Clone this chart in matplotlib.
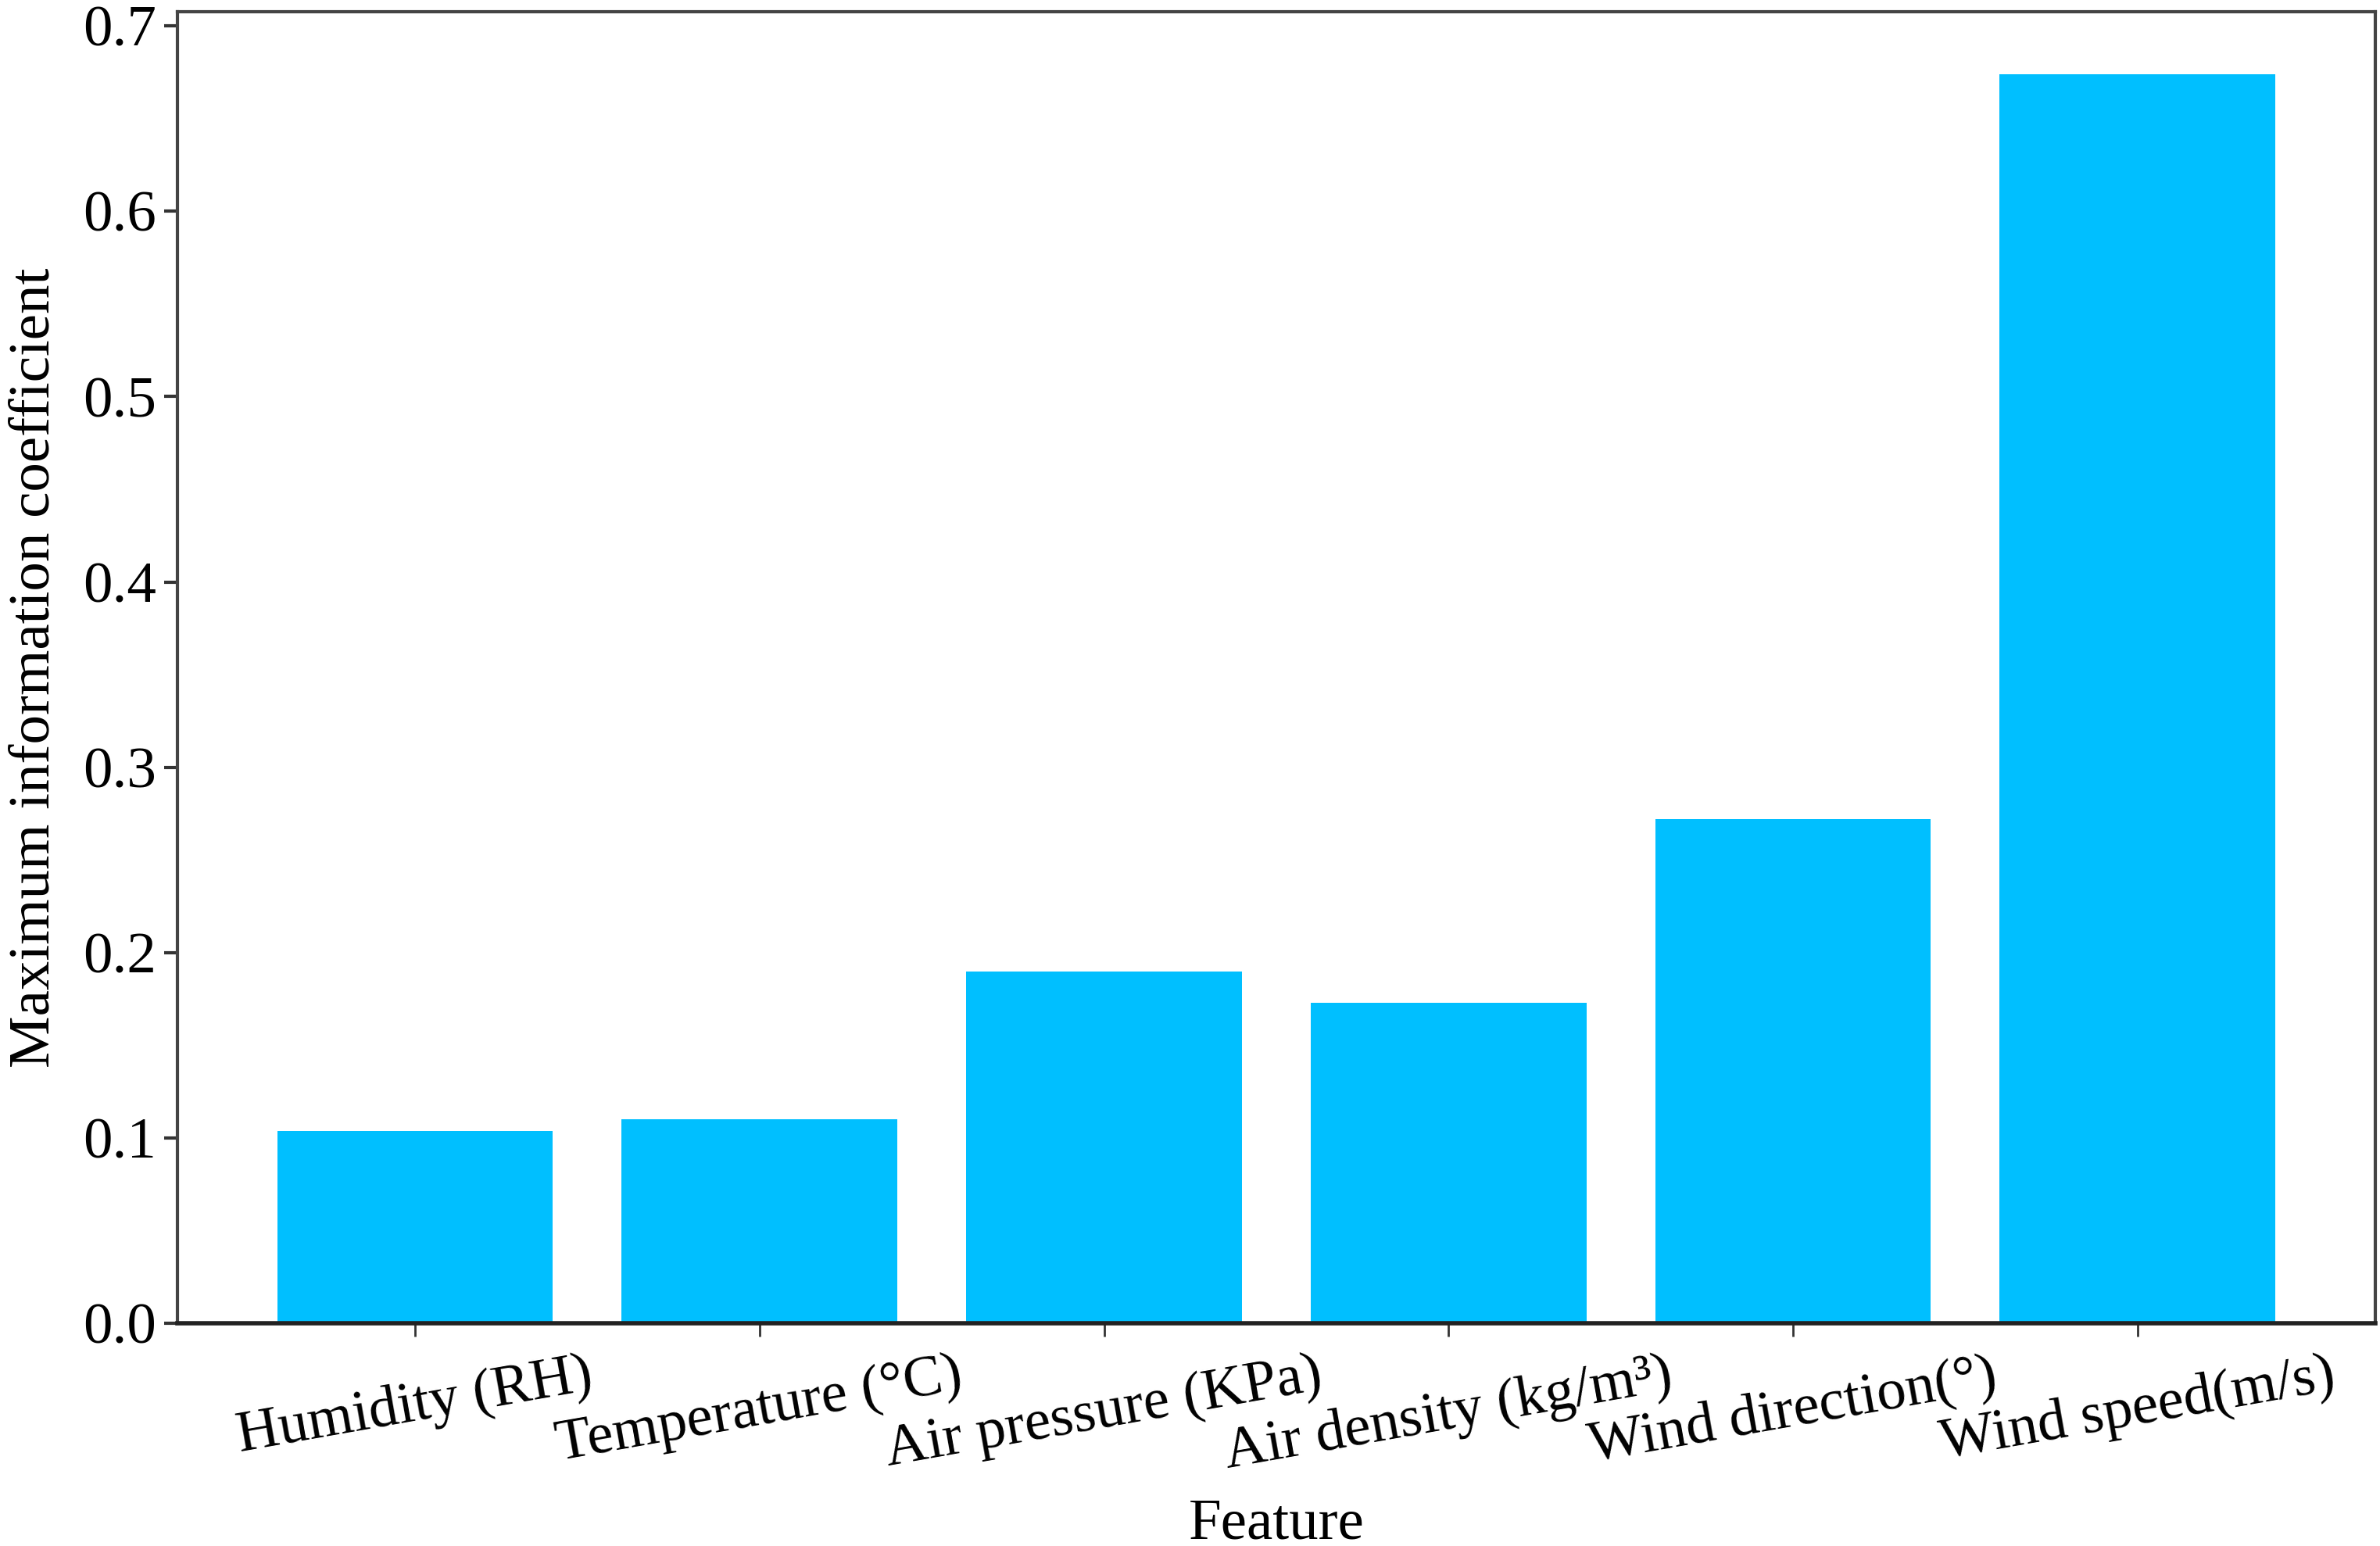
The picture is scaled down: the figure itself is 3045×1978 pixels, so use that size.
import matplotlib
matplotlib.use("Agg")
import matplotlib.pyplot as plt

features = ["Humidity (RH)", "Temperature (°C)", "Air pressure (KPa)",
            "Air density (kg/m³)", "Wind direction(°)", "Wind speed(m/s)"]
mic = [0.104, 0.110, 0.190, 0.173, 0.272, 0.674]

plt.rcParams['font.family'] = ['Liberation Serif', 'DejaVu Serif']
plt.rcParams['mathtext.fontset'] = 'stix'

fig = plt.figure(figsize=(15.225, 9.89), dpi=200)
ax = fig.add_axes([0.0745, 0.144, 0.9235, 0.8485])
ax.bar(range(len(features)), mic, width=0.8, color='#00BFFF')
ax.set_xticks(range(len(features)))
ax.set_xticklabels(features, rotation=10, ha='center', fontsize=27)
ax.tick_params(axis='y', labelsize=27, length=6, width=1.5, color='#333333')
ax.tick_params(axis='x', length=6, width=1.0, color='#333333', pad=6)
ax.set_xlabel("Feature", fontsize=27, labelpad=8)
ax.set_ylabel("Maximum information coefficient", fontsize=27, labelpad=10)
for s in ax.spines.values():
    s.set_linewidth(1.5)
    s.set_color('#444444')
ax.spines['bottom'].set_color('#222222')
ax.spines['bottom'].set_linewidth(2.0)
fig.savefig("out.png", dpi=200)
